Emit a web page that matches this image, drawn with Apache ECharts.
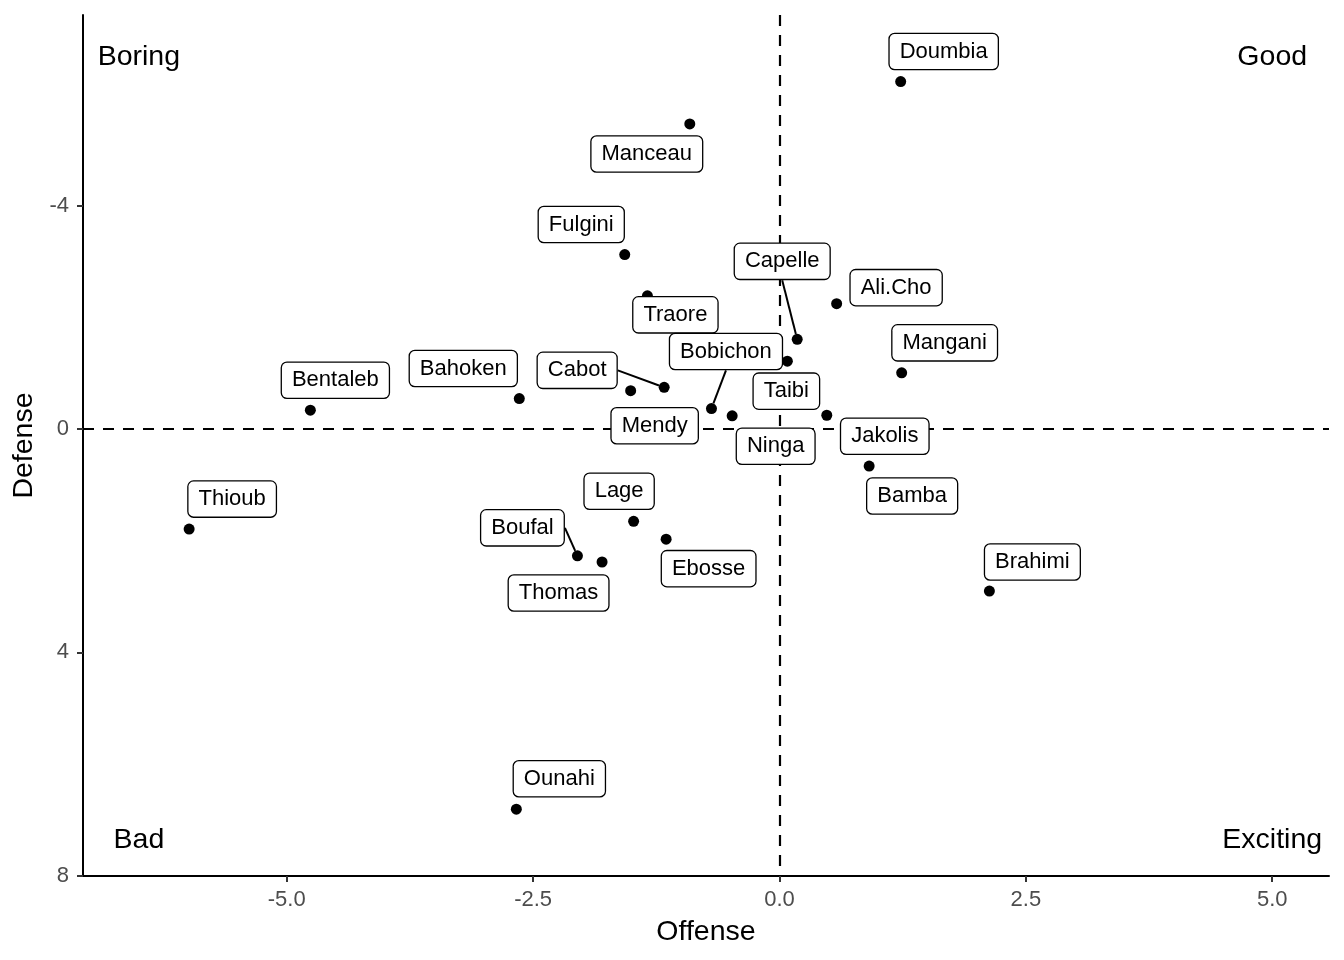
<!DOCTYPE html>
<html><head><meta charset="utf-8">
<script src="https://cdn.jsdelivr.net/npm/echarts@6/dist/echarts.min.js"></script>
<style>html,body{margin:0;padding:0;background:#fff}#c{width:1344px;height:960px}</style>
</head><body><div id="c"></div>
<script>
// ---- data ----
const players = ['Doumbia','Manceau','Fulgini','Traore','Ali.Cho','Capelle','Taibi','Mangani','Cabot','Mendy','Bahoken','Bentaleb','Bobichon','Ninga','Jakolis','Bamba','Thioub','Lage','Ebosse','Boufal','Thomas','Brahimi','Ounahi'];
const offense = [1.23,-0.91,-1.57,-1.34,0.58,0.18,0.08,1.24,-1.17,-1.51,-2.64,-4.76,-0.69,-0.48,0.48,0.91,-5.99,-1.48,-1.15,-2.05,-1.80,2.13,-2.67];
const defense = [-6.23,-5.47,-3.13,-2.39,-2.25,-1.61,-1.22,-1.01,-0.75,-0.69,-0.55,-0.34,-0.37,-0.24,-0.25,0.66,1.79,1.65,1.97,2.27,2.38,2.90,6.81];
const quadrantNames = ['Boring','Good','Bad','Exciting'];
const quadrantX = [-6.5, 5, -6.5, 5];
const quadrantY = [-6.7, -6.7, 7.33, 7.33];
const xTicks = [-5, -2.5, 0, 2.5, 5];
const yTicks = [-4, 0, 4, 8];

// ---- label placement (pixel nudges, segment flag) ----
const labelNudge = {
  'Doumbia':[43,-30,0],'Manceau':[-43,30,0],'Fulgini':[-43.5,-30,0],'Traore':[28,19,0],
  'Ali.Cho':[59.5,-16,0],'Capelle':[-15,-78,1],'Taibi':[-1,30,0],'Mangani':[43,-30,0],
  'Cabot':[-87,-17,1],'Mendy':[24,35,0],'Bahoken':[-56,-30,0],'Bentaleb':[25,-30,0],
  'Bobichon':[14.5,-57,1],'Ninga':[43.5,30.5,0],'Jakolis':[58,21,0],'Bamba':[43,30,0],
  'Thioub':[43,-30,0],'Lage':[-14.5,-30,0],'Ebosse':[42.5,29.5,0],'Boufal':[-55,-28,1],
  'Thomas':[-43.5,31,0],'Brahimi':[43,-29,0],'Ounahi':[43,-30.5,0]
};

const FONT = "'Liberation Sans', Arial, Helvetica, sans-serif";
const chart = echarts.init(document.getElementById('c'), null, {renderer:'canvas'});

const pointData = players.map((n,i)=>({
  name:n, value:[offense[i], defense[i]],
  labelLine:{show: !!labelNudge[n][2]}
}));
const quadData = quadrantNames.map((n,i)=>({name:n, value:[quadrantX[i], quadrantY[i]]}));

chart.setOption({
  animation:false,
  backgroundColor:'#fff',
  grid:{left:83, right:15, top:15, bottom:84, containLabel:false},
  xAxis:{
    type:'value', min:-7.067, max:5.576,
    axisLine:{show:true, onZero:false, lineStyle:{color:'#000', width:2}},
    axisTick:{show:true, customValues:xTicks, length:6, lineStyle:{color:'#333', width:2}},
    axisLabel:{customValues:xTicks, formatter:v=>Number(v).toFixed(1), color:'#4D4D4D', fontSize:22, margin:13, fontFamily:FONT},
    splitLine:{show:false},
    name:'Offense', nameLocation:'middle', nameGap:42,
    nameTextStyle:{fontSize:28.5, color:'#000', fontFamily:FONT}
  },
  yAxis:{
    type:'value', inverse:true, min:-7.423, max:8.007,
    axisLine:{show:true, onZero:false, lineStyle:{color:'#000', width:2}},
    axisTick:{show:true, customValues:yTicks, length:6, lineStyle:{color:'#333', width:2}},
    axisLabel:{customValues:yTicks, formatter:v=>String(v), color:'#4D4D4D', fontSize:22, margin:14, fontFamily:FONT},
    splitLine:{show:false},
    name:'Defense', nameLocation:'middle', nameGap:37, nameRotate:90,
    nameTextStyle:{fontSize:28.5, color:'#000', fontFamily:FONT}
  },
  series:[
    {
      type:'line', data:[], z:1, silent:true,
      markLine:{
        z:1, silent:true, symbol:'none', animation:false,
        label:{show:false},
        lineStyle:{color:'#000', width:2.2, type:[11,9], opacity:1},
        emphasis:{disabled:true},
        data:[{xAxis:0},{yAxis:0}]
      }
    },
    {
      type:'scatter', z:3, data:pointData, symbol:'circle', symbolSize:11,
      itemStyle:{color:'#000', opacity:1},
      label:{
        show:true, position:'inside', formatter:'{b}',
        fontSize:22, fontFamily:FONT, color:'#000', opacity:1,
        backgroundColor:'#fff', borderColor:'#000', borderWidth:1.3, borderRadius:5,
        padding:[8,10,4,10], lineHeight:23
      },
      labelLine:{show:false, length2:0, lineStyle:{color:'#000', width:2, opacity:1}},
      labelLayout:function(p){
        const nm = players[p.dataIndex];
        const a = labelNudge[nm];
        return {dx:a[0], dy:a[1]};
      },
      emphasis:{disabled:true}
    },
    {
      type:'scatter', z:4, data:quadData, symbolSize:0, silent:true,
      itemStyle:{opacity:1},
      label:{show:true, position:'inside', formatter:'{b}', offset:[0,2], fontSize:28.5, fontFamily:FONT, color:'#000', opacity:1},
      emphasis:{disabled:true}
    }
  ]
});
</script>
</body></html>
